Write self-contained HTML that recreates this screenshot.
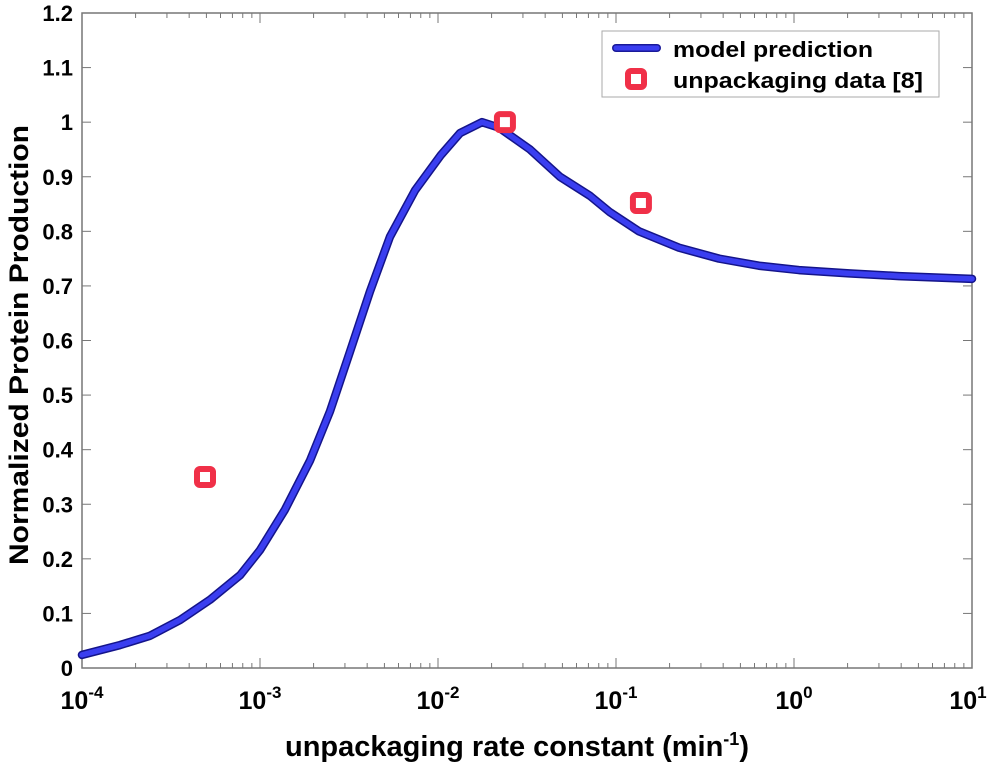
<!DOCTYPE html>
<html><head><meta charset="utf-8"><style>
body{margin:0;background:#fff;}
svg{display:block;font-family:"Liberation Sans",sans-serif;font-weight:bold;}
</style></head><body>
<svg id="chart" width="992" height="762" viewBox="0 0 992 762" xmlns="http://www.w3.org/2000/svg">
<g id="axes"></g>
<g id="plot"></g>
<text x="285" y="756" font-size="29" text-anchor="start">unpackaging rate constant (min<tspan font-size="18" dy="-11">-1</tspan><tspan dy="11">)</tspan></text>
<text transform="translate(28,345) rotate(-90)" font-size="27" text-anchor="middle" textLength="440" lengthAdjust="spacingAndGlyphs">Normalized Protein Production</text>
<g>
<rect x="602" y="31" width="337" height="66" fill="#fff" stroke="#aaa" stroke-width="1"/>
<line x1="616" y1="48" x2="657" y2="48" stroke="#1a1a99" stroke-width="8" stroke-linecap="round"/>
<line x1="616" y1="48" x2="657" y2="48" stroke="#3a3ef0" stroke-width="5" stroke-linecap="round"/>
<text x="673" y="57" font-size="22" textLength="200" lengthAdjust="spacingAndGlyphs">model prediction</text>
<rect x="628" y="71" width="16" height="16" rx="3" fill="#fff" stroke="#f03048" stroke-width="6"/>
<text x="673" y="88" font-size="22" textLength="250" lengthAdjust="spacingAndGlyphs">unpackaging data [8]</text>
</g>
</svg>
<script>
const curveLogX=[-4.0,-3.787,-3.618,-3.449,-3.281,-3.112,-3.0,-2.86,-2.719,-2.607,-2.494,-2.382,-2.27,-2.129,-1.983,-1.876,-1.753,-1.657,-1.483,-1.315,-1.146,-1.034,-0.871,-0.646,-0.421,-0.197,0.028,0.309,0.590,1.0];
const curveY=[0.024,0.042,0.059,0.088,0.125,0.17,0.216,0.29,0.38,0.47,0.58,0.69,0.79,0.875,0.94,0.98,1.0,0.99,0.95,0.90,0.865,0.835,0.80,0.77,0.75,0.737,0.729,0.723,0.718,0.713];
const dataLogX=[-3.309,-1.624,-0.86];
const dataY=[0.35,1.0,0.852];
const yTicks=[0,0.1,0.2,0.3,0.4,0.5,0.6,0.7,0.8,0.9,1,1.1,1.2];
const yTickLabels=["0","0.1","0.2","0.3","0.4","0.5","0.6","0.7","0.8","0.9","1","1.1","1.2"];
const xDecades=[-4,-3,-2,-1,0,1];
const L=82,R=972,T=13,B=668;
const sx=v=>L+(v+4)/5*(R-L);
const sy=v=>B-v/1.2*(B-T);
const NS="http://www.w3.org/2000/svg";
function mk(tag,attrs,parent){const e=document.createElementNS(NS,tag);for(const k in attrs)e.setAttribute(k,attrs[k]);parent.appendChild(e);return e;}
const ax=document.getElementById('axes'),pl=document.getElementById('plot');
const frame=mk('rect',{x:L,y:T,width:R-L,height:B-T,fill:'none',stroke:'#777','stroke-width':1.5},ax);


yTicks.forEach((v,i)=>{
 const y=sy(v);
 const t1=mk('line',{x1:L,y1:y,x2:L+9,y2:y,stroke:'#777','stroke-width':1},ax);
 
 
 const t2=mk('line',{x1:R,y1:y,x2:R-9,y2:y,stroke:'#777','stroke-width':1},ax);
 
 
 const tx=mk('text',{x:L-9,y:y+8,'font-size':22,'text-anchor':'end'},ax);
 tx.textContent=yTickLabels[i];
 
 
});
xDecades.forEach((d,i)=>{
 const x=sx(d);
 [[B,B-10],[T,T+10]].forEach(p=>{
  const t=mk('line',{x1:x,y1:p[0],x2:x,y2:p[1],stroke:'#777','stroke-width':1},ax);
  
  
 });
 if(i<xDecades.length-1){for(let m=2;m<10;m++){const xm=sx(d+Math.log10(m));
  [[B,B-5],[T,T+5]].forEach(p=>{const t=mk('line',{x1:xm,y1:p[0],x2:xm,y2:p[1],stroke:'#777','stroke-width':1},ax);
  
  });}}
 const tx=mk('text',{x:x+(i==xDecades.length-1?-4:0),y:B+41,'font-size':25,'text-anchor':'middle'},ax);
 
 
 tx.innerHTML='10<tspan font-size="17" dy="-11">'+d+'</tspan>';
});
const pts=curveLogX.map((v,i)=>sx(v)+','+sy(curveY[i])).join(' ');
const c1=mk('polyline',{points:pts,fill:'none',stroke:'#14148a','stroke-width':8.5,'stroke-linejoin':'round','stroke-linecap':'round'},pl);


const c2=mk('polyline',{points:pts,fill:'none',stroke:'#3a3ef0','stroke-width':5.5,'stroke-linejoin':'round','stroke-linecap':'round'},pl);


dataLogX.forEach((v,i)=>{
 const m=mk('rect',{x:sx(v)-8,y:sy(dataY[i])-8,width:16,height:16,rx:3,fill:'#fff',stroke:'#f03048','stroke-width':6},pl);
 
 
});
</script>
</body></html>
